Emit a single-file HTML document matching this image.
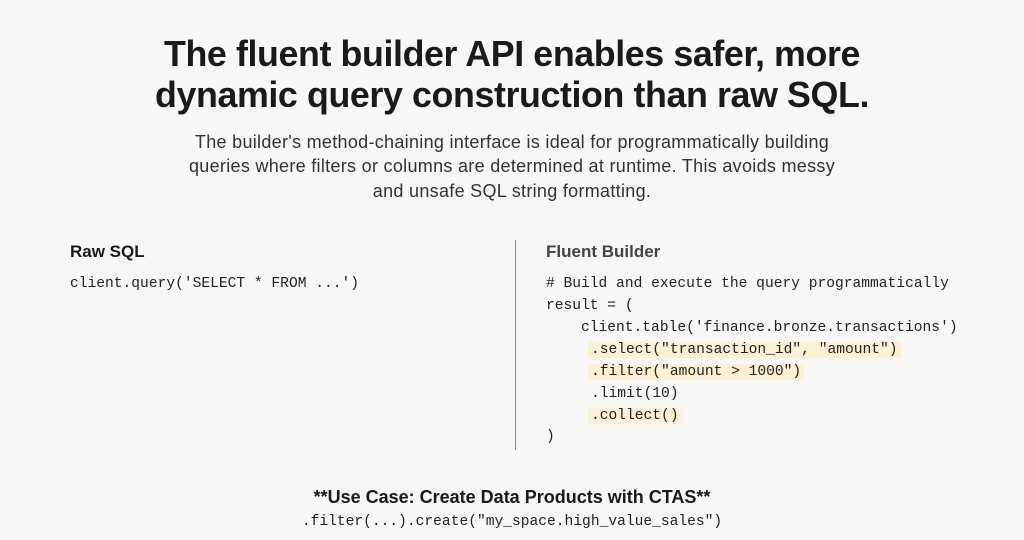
<!DOCTYPE html>
<html><head><meta charset="utf-8"><style>
*{margin:0;padding:0;box-sizing:border-box}
body{width:1024px;height:540px;background:#f7f7f5;position:relative;overflow:hidden;font-family:"Liberation Sans",sans-serif;color:#1a1a1a}
.a{position:absolute;white-space:pre}
.t{left:0;width:1024px;text-align:center;font-weight:bold;font-size:35.8px;letter-spacing:-0.4px;line-height:40px}
.s{left:0;width:1024px;text-align:center;font-size:18px;letter-spacing:0.3px;color:#333;line-height:24px}
.m{font-family:"Liberation Mono",monospace;font-size:14.6px;color:#222}
.h{background:#fcf1d4}
.hd{font-weight:bold;font-size:17px}
</style></head><body>
<div class="a t" style="top:34px">The fluent builder API enables safer, more</div>
<div class="a t" style="top:75px">dynamic query construction than raw SQL.</div>
<div class="a s" style="top:130px">The builder's method-chaining interface is ideal for programmatically building</div>
<div class="a s" style="top:154px">queries where filters or columns are determined at runtime. This avoids messy</div>
<div class="a s" style="top:179px">and unsafe SQL string formatting.</div>

<div class="a hd" style="left:70px;top:242px">Raw SQL</div>
<div class="a m" style="left:70px;top:276px">client.query('SELECT * FROM ...')</div>

<div style="position:absolute;left:515px;top:240px;width:1px;height:210px;background:#888"></div>

<div class="a hd" style="left:546px;top:242px;color:#444">Fluent Builder</div>
<div class="a m" style="left:546px;top:276px">#&nbsp;Build and execute the query programmatically</div>
<div class="a m" style="left:546px;top:298px">result = (</div>
<div class="a m" style="left:581px;top:320px">client.table('finance.bronze.transactions')</div>
<div class="a m h" style="left:588px;top:342px;padding:0 3px">.select("transaction_id", "amount")</div>
<div class="a m h" style="left:588px;top:364px;padding:0 3px">.filter("amount &gt; 1000")</div>
<div class="a m" style="left:591px;top:386px">.limit(10)</div>
<div class="a m h" style="left:588px;top:408px;padding:0 3px">.collect()</div>
<div class="a m" style="left:546px;top:429px">)</div>

<div class="a" style="left:0;width:1024px;text-align:center;top:487px;font-size:18px;font-weight:bold">**Use Case: Create Data Products with CTAS**</div>
<div class="a m" style="left:0;width:1024px;text-align:center;top:514px">.filter(...).create("my_space.high_value_sales")</div>
</body></html>
